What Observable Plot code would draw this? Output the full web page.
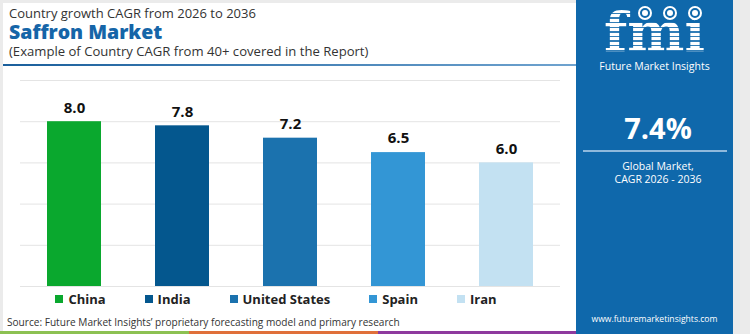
<!DOCTYPE html>
<html>
<head>
<meta charset="utf-8">
<script src="https://cdn.jsdelivr.net/npm/d3@7"></script>
<script src="https://cdn.jsdelivr.net/npm/@observablehq/plot@0.6"></script>
<style>
  html, body { margin: 0; padding: 0; }
  body { width: 750px; height: 334px; overflow: hidden; background: #ebebeb; font-family: "Open Sans", "Noto Sans", sans-serif; }
  #wrap { position: relative; width: 750px; height: 334px; }
  #card { position: absolute; left: 3px; top: 3px; width: 573px; height: 328px; background: #fff; }
  .abs { position: absolute; white-space: nowrap; line-height: 1; }
  #panel { position: absolute; left: 576px; top: 0; width: 157px; height: 334px; background: #0f68ab; overflow: hidden; }
  #legend { position: absolute; left: 0; top: 290px; width: 552px; display: flex; justify-content: center; gap: 39px; line-height: 18px; }
  .item { display: flex; align-items: center; font-weight: 700; font-size: 13px; color: #222; }
  .sw { width: 8px; height: 8px; margin-right: 5px; }
  .stripe { position: absolute; top: 331px; height: 3px; }
  .globe { position: absolute; top: 6px; width: 10px; height: 10px; border-radius: 50%; border: 2px solid #fff; background: #0f68ab; z-index: 2; }
  .globe::after { content: ""; position: absolute; left: 2px; top: 2px; width: 6px; height: 6px; border-radius: 50%; background: #fff; }
  #logo { background: repeating-linear-gradient(180deg, #fff 0 3.2px, rgba(255,255,255,0.15) 3.2px 4.6px); -webkit-background-clip: text; background-clip: text; color: transparent; }
</style>
</head>
<body>
<div id="wrap">
  <div id="card"></div>
  <div id="chart" class="abs" style="left:0;top:0;"></div>
  <div class="abs" style="left:9px;top:6.5px;font-size:13px;color:#333;">Country growth CAGR from 2026 to 2036</div>
  <div class="abs" style="left:9px;top:22px;font-size:19.5px;font-weight:800;color:#1565a8;">Saffron Market</div>
  <div class="abs" style="left:9px;top:44.5px;font-size:13.1px;color:#333;">(Example of Country CAGR from 40+ covered in the Report)</div>
  <div class="abs" style="left:3px;top:64px;width:573px;height:2px;background:linear-gradient(90deg,#1a5f9c,#6fa3cf);"></div>
  <div id="legend"></div>
  <div class="abs" style="left:7px;top:317px;font-size:10.1px;color:#333;">Source: Future Market Insights’ proprietary forecasting model and primary research</div>
  <div class="stripe" style="left:0;width:189px;background:#8cc152;"></div>
  <div class="stripe" style="left:189px;width:189px;background:#e0703a;"></div>
  <div class="stripe" style="left:378px;width:198px;background:#8e3a9e;"></div>
  <div id="panel">
    <div id="logo" class="abs" style="left:0;width:157px;top:4.5px;line-height:54px;text-align:center;font-family:'DejaVu Serif',serif;font-weight:700;font-size:54px;letter-spacing:0px;">fmi</div>
    <div class="globe" style="left:62px;"></div>
    <div class="globe" style="left:87px;"></div>
    <div class="globe" style="left:112px;"></div>
    <div class="abs" style="left:0;width:157px;top:61px;text-align:center;font-size:10.5px;color:#fff;">Future Market Insights</div>
    <div class="abs" style="left:0;width:164px;top:113px;text-align:center;font-size:29px;font-weight:700;color:#fff;">7.4%</div>
    <div class="abs" style="left:7px;top:150px;width:144px;height:2px;background:#8fb9dc;"></div>
    <div class="abs" style="left:0;width:164px;top:160px;text-align:center;font-size:10.5px;color:#fff;line-height:13px;">Global Market,<br>CAGR 2026 - 2036</div>
    <div class="abs" style="left:0;width:157px;top:315px;text-align:center;font-size:8.6px;color:#fff;">www.futuremarketinsights.com</div>
  </div>
</div>
<script>
const countries = ["China", "India", "United States", "Spain", "Iran"];
const cagr = [8.0, 7.8, 7.2, 6.5, 6.0];
const colors = ["#0aa82e", "#04578e", "#1b72ae", "#3396d5", "#c3e1f2"];
const gridTicks = [0, 2, 4, 6, 8, 10];

const data = countries.map((c, i) => ({country: c, value: cagr[i]}));

const chart = Plot.plot({
  width: 576,
  height: 300,
  marginLeft: 20,
  marginRight: 16,
  marginTop: 80,
  marginBottom: 14,
  style: {background: "transparent", fontFamily: "Open Sans, sans-serif"},
  x: {domain: countries, paddingInner: 0.5, paddingOuter: 0.244, axis: null},
  y: {domain: [0, 10], axis: null},
  color: {domain: countries, range: colors},
  marks: [
    Plot.ruleY(gridTicks, {stroke: "#e4e4e4", strokeWidth: 1}),
    Plot.barY(data, {x: "country", y: "value", fill: "country"}),
    Plot.text(data, {x: "country", y: "value", text: d => d.value.toFixed(1), dy: -14, fontSize: 15, fontWeight: 700, fill: "#111"})
  ]
});
document.getElementById("chart").appendChild(chart);

const legend = d3.select("#legend");
countries.forEach((c, i) => {
  const item = legend.append("div").attr("class", "item");
  item.append("div").attr("class", "sw").style("background", colors[i]);
  item.append("span").text(c);
});
</script>
</body>
</html>
